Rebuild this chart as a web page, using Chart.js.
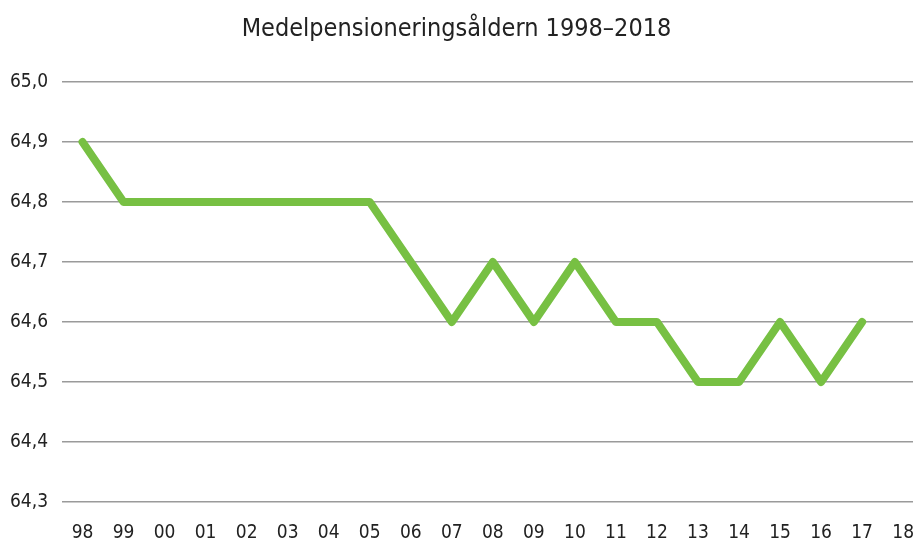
<!DOCTYPE html>
<html>
<head>
<meta charset="utf-8">
<script src="https://cdn.jsdelivr.net/npm/chart.js@4"></script>
<style>
  html, body { margin: 0; padding: 0; background: #fff; }
  #wrap { width: 913px; height: 540px; }
</style>
</head>
<body>
<div id="wrap"><canvas id="myChart"></canvas></div>
<script>
const years = ['98', '99', '00', '01', '02', '03', '04', '05', '06', '07', '08', '09', '10', '11', '12', '13', '14', '15', '16', '17', '18'];
const pensionAge = [64.9, 64.8, 64.8, 64.8, 64.8, 64.8, 64.8, 64.8, 64.7, 64.6, 64.7, 64.6, 64.7, 64.6, 64.6, 64.5, 64.5, 64.6, 64.5, 64.6, null];
const yTicks = [64.3, 64.4, 64.5, 64.6, 64.7, 64.8, 64.9, 65.0];

const fontFamily = "'DejaVu Sans Condensed', sans-serif";

const ctx = document.getElementById('myChart');

new Chart(ctx, {
    type: 'line',
    data: {
        datasets: [{
            label: 'Medelpensioneringsåldern',
            data: pensionAge.map((v, i) => ({ x: i, y: v })),
            borderColor: '#77c043',
            borderWidth: 8,
            pointRadius: 0,
            fill: false,
            tension: 0,
            borderJoinStyle: 'round',
            borderCapStyle: 'round',
        }]
    },
    options: {
        responsive: true,
        maintainAspectRatio: false,
        animation: false,
        layout: { padding: { left: 0, right: 0, top: 14, bottom: 0 } },
        plugins: {
            legend: { display: false },
            tooltip: { enabled: false },
            title: {
                display: true,
                text: 'Medelpensioneringsåldern 1998–2018',
                color: '#222',
                font: { family: fontFamily, size: 25, weight: 'normal' },
                padding: { top: 0, bottom: 38 },
            },
        },
        scales: {
            x: {
                type: 'linear',
                min: -0.5,
                max: 20.24,
                afterBuildTicks: axis => {
                    axis.ticks = years.map((y, i) => ({ value: i }));
                },
                afterFit: axis => {
                    axis.height = 38;
                    axis.paddingLeft = 0;
                    axis.paddingRight = 0;
                },
                ticks: {
                    callback: v => years[v],
                    color: '#222',
                    font: { family: fontFamily, size: 19, lineHeight: 1 },
                    maxRotation: 0,
                    autoSkip: false,
                    padding: 14,
                },
                grid: { display: false },
                border: { display: false },
            },
            y: {
                min: 64.3,
                max: 65.0,
                afterBuildTicks: axis => {
                    axis.ticks = yTicks.map(v => ({ value: v }));
                },
                afterFit: axis => {
                    axis.width = 62;
                    axis.paddingTop = 0;
                    axis.paddingBottom = 0;
                },
                ticks: {
                    callback: v => v.toFixed(1).replace('.', ','),
                    color: '#222',
                    font: { family: fontFamily, size: 19 },
                    padding: 14,
                },
                grid: { color: '#9a9a9a', lineWidth: 1.5, drawTicks: false },
                border: { display: false },
            }
        }
    }
});
</script>
</body>
</html>
